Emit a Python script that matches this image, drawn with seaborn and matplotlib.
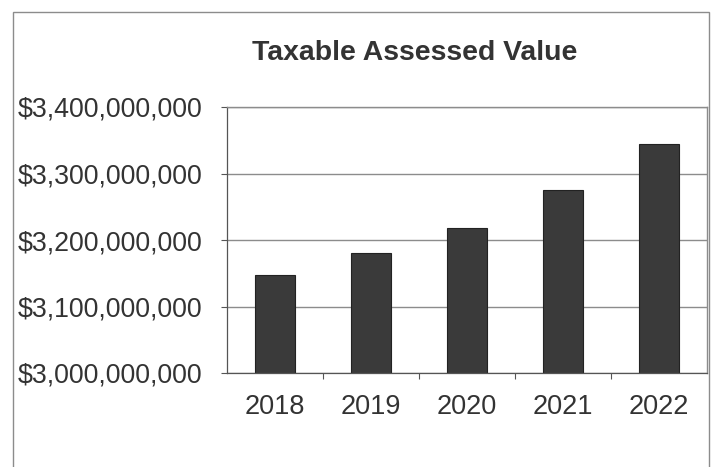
import matplotlib
matplotlib.use("Agg")
import matplotlib.pyplot as plt
import matplotlib.ticker as mticker
from matplotlib.patches import Rectangle
import seaborn as sns
import pandas as pd

# Taxable assessed value by year
years = ["2018", "2019", "2020", "2021", "2022"]
values = [3_148_000_000, 3_181_000_000, 3_218_000_000, 3_275_000_000, 3_345_000_000]
y_ticks = [3_000_000_000, 3_100_000_000, 3_200_000_000, 3_300_000_000, 3_400_000_000]
title = "Taxable Assessed Value"

df = pd.DataFrame({"year": years, "value": values})

sns.set_theme(style="white")
plt.rcParams["font.family"] = ["Liberation Sans", "DejaVu Sans"]

W, H = 712, 467
fig = plt.figure(figsize=(W / 100, H / 100), dpi=100)
fig.patch.set_facecolor("white")

# plot area in pixel terms
left, right, top, bottom = 227, 707, 107, 373
ax = fig.add_axes([left / W, (H - bottom) / H, (right - left) / W, (bottom - top) / H])

sns.barplot(data=df, x="year", y="value", ax=ax, color="#3a3a3a",
            width=0.42, edgecolor="#222222", linewidth=0.8, saturation=1)

ax.set_ylim(y_ticks[0], y_ticks[-1])
ax.set_xlim(-0.5, len(years) - 0.5)
ax.set_yticks(y_ticks)
ax.yaxis.set_major_formatter(mticker.FuncFormatter(lambda v, p: f"${v:,.0f}"))
ax.set_xlabel("")
ax.set_ylabel("")

ax.yaxis.grid(True, color="#8c8c8c", linewidth=1.0)
ax.set_axisbelow(True)

text_color = "#333333"
ax.tick_params(axis="y", which="major", left=True, length=4.3, width=0.8,
               color="#555555", pad=13.7, labelsize=19.3, labelcolor=text_color)
ax.tick_params(axis="x", which="major", bottom=False, length=0, pad=15,
               labelsize=19.5, labelcolor=text_color)
ax.set_xticks([i + 0.5 for i in range(len(years) - 1)], minor=True)
ax.tick_params(axis="x", which="minor", bottom=True, length=4.3, width=0.8,
               color="#555555")

for side in ["left", "bottom"]:
    ax.spines[side].set_color("#555555")
    ax.spines[side].set_linewidth(0.9)
for side in ["top", "right"]:
    ax.spines[side].set_color("#8c8c8c")
    ax.spines[side].set_linewidth(1.0)

# outer chart frame
fig.add_artist(Rectangle((13 / W, -0.05), (709 - 13) / W, (H - 12) / H + 0.05,
                         transform=fig.transFigure, fill=False,
                         edgecolor="#8c8c8c", linewidth=1.0))

fig.text(415 / W, 1 - 53 / H, title, ha="center", va="center",
         fontsize=20.4, fontweight="bold", color=text_color)

fig.savefig("out.png", dpi=100, facecolor="white")
